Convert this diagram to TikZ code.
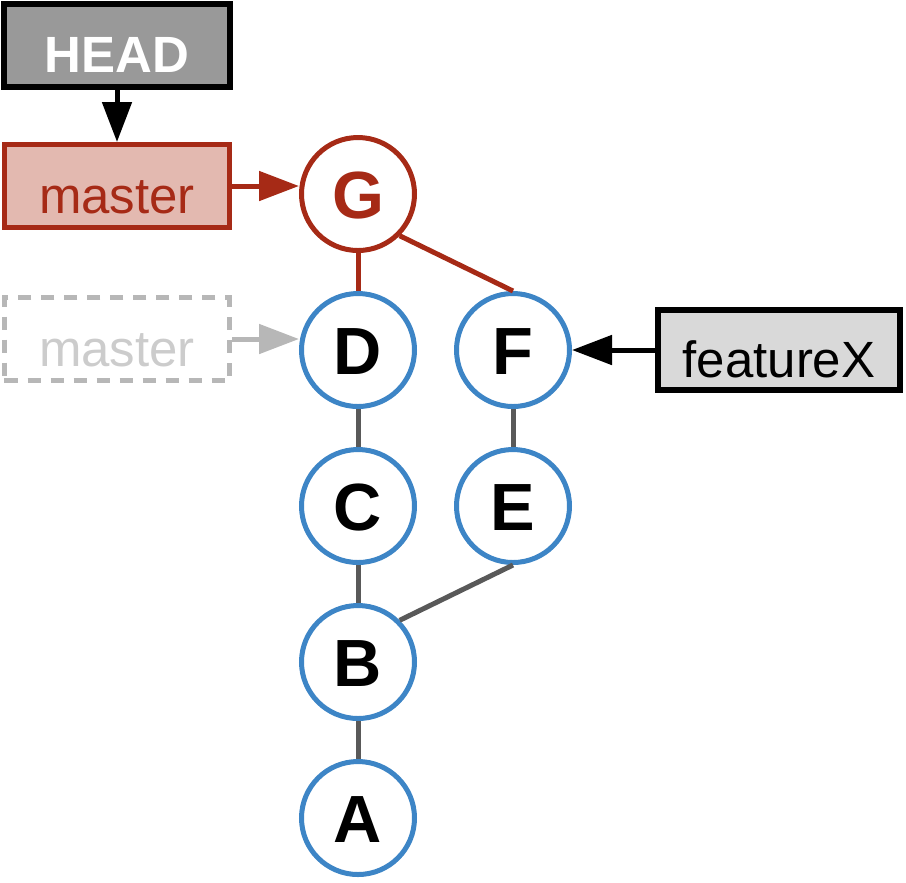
\documentclass[tikz,border=0pt]{standalone}
\usepackage{fontspec}
\setmainfont{Liberation Sans}
\usetikzlibrary{positioning}
\usetikzlibrary {arrows.meta}
\definecolor{commitblue}{HTML}{3D85C6}
\definecolor{masterred}{HTML}{A62A16}
\definecolor{masterfill}{HTML}{E3B9B0}
\definecolor{headgray}{HTML}{999999}
\definecolor{edgegray}{HTML}{595959}
\definecolor{oldgray}{HTML}{B7B7B7}
\definecolor{oldtext}{HTML}{CCCCCC}
\definecolor{featurefill}{HTML}{D9D9D9}
\tikzset{commit/.style={circle,draw=commitblue,fill=white,line width=0.05cm,
inner sep=0pt,minimum size=1.13cm,text height=0.48cm,text depth=0pt,
font=\fontsize{19}{19}\selectfont\bfseries}}
\tikzset{newcommit/.style={commit,draw=masterred,text=masterred}}
\tikzset{ref/.style={rectangle,draw=black,line width=0.06cm,
inner sep=2pt,minimum height=0.83cm, minimum width=2.25cm,
text height=0.54cm,text depth=0pt,font=\fontsize{14.5}{14.5}\selectfont}}
\tikzset{parent/.style={line width=0.05cm,draw=edgegray}}
\tikzset{refarrow/.style={line width=0.05cm,-{Triangle[length=0.4cm,width=0.29cm]}}}

\begin{document}
\begin{tikzpicture}
        \useasboundingbox (0,0) rectangle (9.06,-8.82);

        \node[newcommit] (G) at (3.58,-1.94) {G};
        \node[commit] (D) [below=0.38cm of G] {D};
        \node[commit] (C) [below=0.38cm of D] {C};
        \node[commit] (B) [below=0.38cm of C] {B};
        \node[commit] (A) [below=0.38cm of B] {A};
        \node[commit] (F) [right=0.37cm of D] {F};
        \node[commit] (E) [below=0.38cm of F] {E};

        \node[ref,fill=headgray,text=white,font=\fontsize{14.5}{14.5}\selectfont\bfseries] (head) at (1.17,-0.455) {HEAD};
        \node[ref,draw=masterred,line width=0.05cm,fill=masterfill,text=masterred] (master) [below=0.52cm of head] {master};
        \node[ref,draw=oldgray,line width=0.05cm,dash pattern=on 0.13cm off 0.1cm,text=oldtext] (oldmaster) [below=0.65cm of master] {master};
        \node[ref,fill=featurefill,minimum width=2.42cm,minimum height=0.8cm] (featureX) [right=0.83cm of F] {featureX};

        \draw[parent,draw=masterred] (G) -- (D);
        \draw[parent,draw=masterred] (G.-45) -- (F.north);
        \draw[parent] (D) -- (C);
        \draw[parent] (C) -- (B);
        \draw[parent] (B) -- (A);
        \draw[parent] (F) -- (E);
        \draw[parent] (B.45) -- (E.south);

        \draw[refarrow] (head) -- (master);
        \draw[refarrow,masterred] (master) -- (master -| G.west);
        \draw[refarrow,oldgray] (oldmaster) -- (oldmaster -| D.west);
        \draw[refarrow] (featureX) -- (featureX -| F.east);

    \end{tikzpicture}
\end{document}
